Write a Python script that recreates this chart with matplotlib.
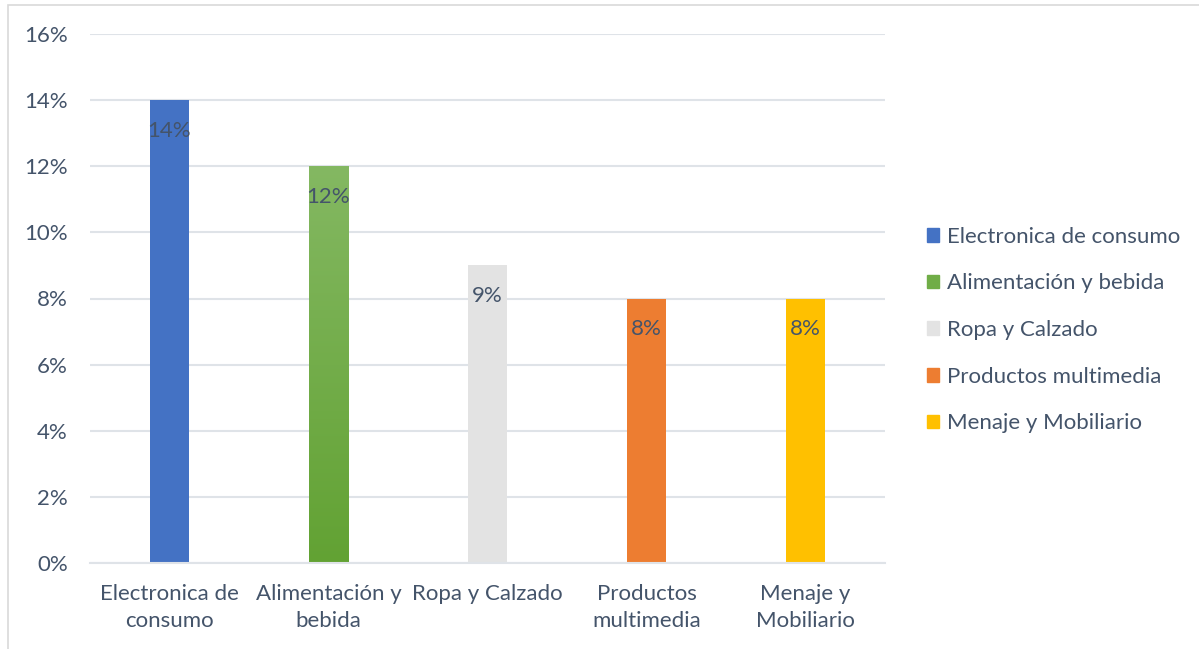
import numpy as np
import matplotlib.pyplot as plt
from matplotlib.colors import LinearSegmentedColormap
from matplotlib.patches import Rectangle

categories = ["Electronica de\nconsumo", "Alimentación y\nbebida", "Ropa y Calzado",
              "Productos\nmultimedia", "Menaje y\nMobiliario"]
legend_names = ["Electronica de consumo", "Alimentación y bebida", "Ropa y Calzado",
                "Productos multimedia", "Menaje y Mobiliario"]
values = [0.14, 0.12, 0.09, 0.08, 0.08]
colors = ["#4472c4", "#70ad47", "#e3e3e3", "#ed7d31", "#ffc000"]
yticks = [0, 0.02, 0.04, 0.06, 0.08, 0.10, 0.12, 0.14, 0.16]

plt.rcParams['font.family'] = ['Lato', 'DejaVu Sans']
txt = "#44546a"
fs = 16

fig = plt.figure(figsize=(11.99, 6.49), dpi=100)
fig.patches.append(Rectangle((8/1199, -0.01), 1.0, 1 - 5/649 + 0.01, transform=fig.transFigure,
                             fill=False, edgecolor="#d9d9d9", linewidth=1.2))
ax = fig.add_axes([90/1199, 1 - 563/649, 795/1199, (563 - 34)/649])

x = np.arange(len(categories))
bars = ax.bar(x, values, width=0.25, color=colors, zorder=2)

# gradient on the green bar
b = bars[1]
grad = LinearSegmentedColormap.from_list("g", ["#62a233", "#84b862"])
ax.imshow(np.linspace(0, 1, 256).reshape(-1, 1), cmap=grad, aspect="auto", origin="lower",
          extent=[b.get_x(), b.get_x() + b.get_width(), 0, b.get_height()], zorder=2.5)

for xi, v in zip(x, values):
    ax.annotate(f"{v*100:.0f}%", (xi, v), xytext=(0, -22), textcoords="offset points",
                ha="center", va="center", fontsize=fs, color=txt, zorder=3)

ax.set_xlim(-0.5, len(categories) - 0.5)
ax.set_ylim(0, 0.16)
ax.set_yticks(yticks)
ax.set_yticklabels([f"{t*100:.0f}%" for t in yticks])
ax.set_xticks(x)
ax.set_xticklabels(categories, linespacing=1.45)
ax.tick_params(axis="both", length=0, labelsize=fs, labelcolor=txt)
ax.tick_params(axis="y", pad=16)
ax.tick_params(axis="x", pad=15)
ax.grid(axis="y", color="#dfe3e8", linewidth=1.5, zorder=0)
for s in ["top", "right", "left"]:
    ax.spines[s].set_visible(False)
ax.spines["bottom"].set_color("#dfe3e8")
ax.spines["bottom"].set_linewidth(1.5)

handles = [Rectangle((0, 0), 1, 1, color=c) for c in colors]
leg = fig.legend(handles, legend_names, loc="center left", bbox_to_anchor=(907/1199, 1 - 330/649),
                 frameon=False, fontsize=fs, handlelength=0.55, handleheight=0.55,
                 handletextpad=0.35, labelspacing=1.2, labelcolor=txt)

fig.savefig("out.png", dpi=100)
